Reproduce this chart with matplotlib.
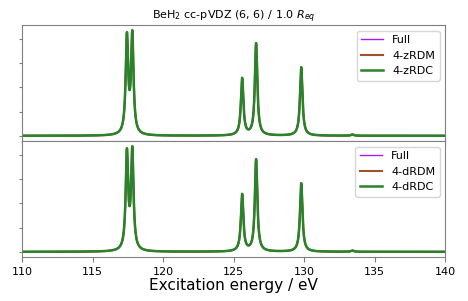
import numpy as np
import matplotlib
matplotlib.use("Agg")
import matplotlib.pyplot as plt
from matplotlib.ticker import MultipleLocator

# Stick spectrum (excitation energies in eV, relative intensities)
stick_energies = [117.44, 117.82, 125.61, 126.60, 129.80, 133.43]
full_heights = [3.99, 4.08, 2.35, 3.80, 2.83, 0.05]
rdm_heights = [3.99, 4.08, 2.35, 3.80, 2.83, 0.05]
rdc_heights = [3.99, 4.08, 2.35, 3.80, 2.83, 0.05]
hwhm = 0.105  # Lorentzian broadening

panel_labels = [["Full", "4-zRDM", "4-zRDC"],
                ["Full", "4-dRDM", "4-dRDC"]]
colors = ["#a020f0", "#a0522d", "#2a832a"]
widths = [1.0, 1.5, 1.8]

energy = np.linspace(110, 140, 6001)


def broaden(heights):
    spec = np.zeros_like(energy)
    for e0, h in zip(stick_energies, heights):
        spec += h * hwhm**2 / ((energy - e0)**2 + hwhm**2)
    return spec


spectra = [broaden(full_heights), broaden(rdm_heights), broaden(rdc_heights)]

fig, axes = plt.subplots(2, 1, figsize=(4.68, 3.01), dpi=100, sharex=True)
fig.subplots_adjust(left=0.047, right=0.951, top=0.917, bottom=0.146, hspace=0)

for ax, labels in zip(axes, panel_labels):
    for spec, lab, c, lw in zip(spectra, labels, colors, widths):
        ax.plot(energy, spec, color=c, lw=lw, label=lab)
    ax.yaxis.set_major_locator(MultipleLocator(1))
    ax.set_yticklabels([])
    ax.tick_params(axis="y", length=2.5, color="#808080")
    ax.tick_params(axis="x", color="#808080", labelsize=8)
    for s in ax.spines.values():
        s.set_color("#808080")
    ax.legend(loc="upper right", fontsize=8)

axes[0].set_title(r"BeH$_2$ cc-pVDZ (6, 6) / 1.0 $R_{eq}$", fontsize=8, pad=3)
axes[1].set_xlim(110, 140)
axes[1].set_xlabel("Excitation energy / eV", fontsize=11, labelpad=1)

plt.savefig("out.png", dpi=100)
